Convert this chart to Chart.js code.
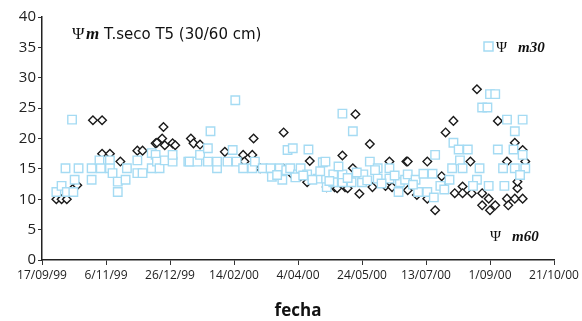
<!DOCTYPE html>
<html>
<head>
<meta charset="utf-8">
<script src="https://cdn.jsdelivr.net/npm/chart.js@4.4.1/dist/chart.umd.min.js"></script>
<style>
  html, body { margin: 0; padding: 0; background: #fff; }
  #wrap { width: 582px; height: 321px; }
</style>
</head>
<body>
<div id="wrap"><canvas id="c" width="582" height="321"></canvas></div>
<script>
// x = days after 17/09/99, y = water potential

// Psi m30 (light blue squares)
const m30Days = [11, 15, 18, 19, 23, 24, 25, 28, 38, 38, 44, 45, 52, 52, 54, 58, 58, 64, 65, 73, 73, 77,
  84, 84, 87, 88, 90, 94, 100, 100, 112, 113, 119, 121, 127, 127, 129, 134, 134, 142, 146, 148, 149,
  154, 161, 163, 169, 175, 176, 182, 184, 187, 188, 190, 192, 196, 198, 203, 204, 211, 215, 217, 218,
  223, 223, 230, 230, 230, 237, 238, 245, 246, 251, 257, 257, 266, 266, 273, 274, 278, 280, 286, 288,
  292, 295, 299, 300, 301, 305, 312, 314, 315, 319, 320, 322, 326, 333, 335, 337, 341, 342, 343, 347,
  349, 353, 354, 356, 361, 362, 362, 368, 368, 370,
  180, 194, 200, 207, 213, 220, 227, 234, 241, 249, 255, 260, 270, 284, 308, 330, 366];
const m30Vals = [11.2, 12.2, 15.1, 11.2, 23.1, 11.2, 13.2, 15.1, 15.1, 13.2, 16.4, 15.1, 16.4, 15.1, 14.3, 11.2, 12.9, 13.2, 15.1, 16.4, 14.3, 14.3,
  17.6, 15.1, 17.3, 16.2, 15.1, 16.4, 16.2, 17.3, 16.2, 16.2, 16.2, 17.3, 16.2, 18.4, 21.2, 15.1, 16.2, 16.2, 18.1, 26.3, 16.2,
  15.1, 15.1, 16.2, 15.1, 15.1, 13.7, 15.1, 13.2, 14.8, 18.1, 15.1, 18.4, 14.1, 15.1, 14.1, 18.2, 13.4, 16.1, 16.2, 12,
  14.1, 12.8, 12.8, 14.1, 24.1, 12.8, 21.2, 12.8, 14.1, 16.2, 15.1, 13.4, 15.1, 13.4, 11.2, 12.8, 13.2, 14.1, 13.2, 11.2,
  14.2, 11.2, 14.2, 10.3, 17.3, 12.2, 13.2, 15.1, 19.3, 18.2, 16.4, 15.1, 18.2, 13.2, 15.1, 25.1, 25.1, 12.2, 27.3, 27.3,
  18.2, 15.1, 12.2, 23.1, 18.2, 21.2, 15.1, 17.3, 23.1, 15.1,
  14.0, 13.6, 13.9, 13.2, 14.6, 13.0, 15.4, 13.5, 14.4, 13.1, 14.8, 12.6, 13.9, 12.4, 11.6, 12.2, 14.0];

// Psi m60 (black diamonds)
const m60Days = [11, 15, 19, 24, 27, 39, 46, 46, 52, 60, 73, 77, 87, 88, 92, 93, 94, 100, 102, 114, 116,
  121, 140, 154, 155, 161, 162, 167, 175, 185, 185, 192, 198, 203, 205, 218, 224, 226, 230, 232, 234,
  238, 240, 243, 251, 253, 263, 266, 268, 279, 280, 280, 287, 295, 295, 301, 306, 306, 309, 315, 316,
  322, 322, 328, 329, 333, 337, 337, 342, 343, 347, 349, 356, 356, 357, 362, 362, 364, 364, 368, 368, 370];
const m60Vals = [10, 10, 10, 11.8, 12.3, 23, 23, 17.5, 17.5, 16.2, 18, 18, 19.2, 19.3, 20, 21.9, 18.9, 19.2, 18.9, 20, 19.2,
  19, 17.8, 17.3, 16.2, 17.3, 20, 15.1, 14.8, 21, 15, 14, 13.8, 12.8, 16.3, 12, 12, 11.8, 17.2, 12, 11.8,
  15.1, 24, 10.9, 19.1, 12, 12.2, 16.2, 12, 16.2, 11.5, 16.2, 10.7, 16.2, 10.1, 8.2, 13.8, 12.3, 21, 22.9, 11,
  12.1, 11, 16.2, 11, 28.1, 11, 9, 10.1, 8.2, 9, 22.9, 16.2, 10.1, 9, 19.3, 10.1, 11.8, 12.9, 18.1, 10.1, 16.2];

const xTickLabels = ['17/09/99', '6/11/99', '26/12/99', '14/02/00', '4/04/00', '24/05/00', '13/07/00', '1/09/00', '21/10/00'];

function pts(xs, ys) {
  return xs.map((x, i) => ({ x: x, y: ys[i] }));
}

// title and the two series labels sit inside the plot, drawn by hand
const textPlugin = {
  id: 'texts',
  afterDraw(chart) {
    const ctx = chart.ctx;
    ctx.save();
    ctx.fillStyle = '#111';
    ctx.textBaseline = 'alphabetic';
    // title
    ctx.font = '17px "Liberation Serif"';
    ctx.fillText('\u03A8', 72, 39);
    ctx.font = 'bold italic 17px "Liberation Serif"';
    ctx.fillText('m', 86, 39);
    ctx.font = '15px "DejaVu Sans"';
    ctx.fillText('T.seco T5 (30/60 cm)', 104, 39);
    // m30 label with its marker
    ctx.strokeStyle = '#a5dbf3';
    ctx.lineWidth = 1.5;
    ctx.strokeRect(484, 42, 9, 9);
    ctx.font = '15px "Liberation Serif"';
    ctx.fillText('\u03A8', 496, 52);
    ctx.font = 'bold italic 15px "Liberation Serif"';
    ctx.fillText('m30', 518, 52);
    // m60 label
    ctx.font = '15px "Liberation Serif"';
    ctx.fillText('\u03A8', 490, 241);
    ctx.font = 'bold italic 15px "Liberation Serif"';
    ctx.fillText('m60', 512, 241);
    ctx.restore();
  }
};

new Chart(document.getElementById('c'), {
  type: 'scatter',
  data: {
    datasets: [
      {
        label: 'm30',
        data: pts(m30Days, m30Vals),
        pointStyle: 'rect',
        pointRadius: 6,
        pointBorderWidth: 1.4,
        pointBorderColor: '#a5dbf3',
        pointBackgroundColor: '#ffffff'
      },
      {
        label: 'm60',
        data: pts(m60Days, m60Vals),
        pointStyle: 'rectRot',
        pointRadius: 4.3,
        pointBorderWidth: 1.4,
        pointBorderColor: '#1a1a1a',
        pointBackgroundColor: '#ffffff'
      }
    ]
  },
  options: {
    responsive: false,
    animation: false,
    layout: { padding: { top: 17, right: 28, left: 0, bottom: 0 } },
    plugins: {
      legend: { display: false },
      tooltip: { enabled: false }
    },
    scales: {
      x: {
        type: 'linear',
        min: 0,
        max: 392,
        afterFit: (s) => { s.height = 61; },
        grid: { drawOnChartArea: false, drawTicks: true, tickLength: 5, color: '#333' },
        border: { color: '#222', width: 1.5 },
        ticks: {
          stepSize: 49,
          autoSkip: false,
          maxRotation: 0,
          color: '#222',
          font: { family: 'Open Sans', size: 12 },
          padding: 3,
          callback: (v, i) => xTickLabels[i]
        },
        title: {
          display: true,
          text: 'fecha',
          color: '#111',
          font: { family: 'Open Sans', size: 17, weight: 'bold' },
          padding: { top: 10, bottom: 0 }
        }
      },
      y: {
        min: 0,
        max: 40,
        afterFit: (s) => { s.width = 42; },
        grid: { drawOnChartArea: false, drawTicks: true, tickLength: 4, color: '#333' },
        border: { color: '#222', width: 1.5 },
        ticks: {
          stepSize: 5,
          color: '#222',
          font: { family: 'Open Sans', size: 15 },
          padding: 2
        }
      }
    }
  },
  plugins: [textPlugin]
});
</script>
</body>
</html>
